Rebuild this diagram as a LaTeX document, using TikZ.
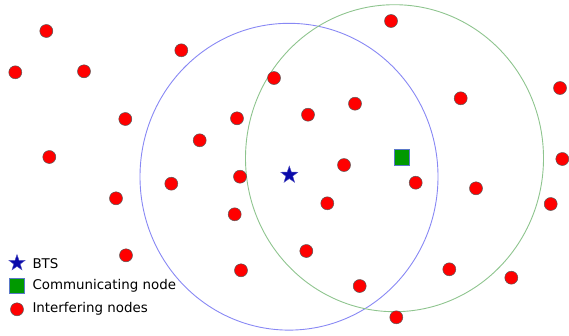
\documentclass[tikz,border=0pt]{standalone}
\usepackage{fontspec}
\setmainfont{DejaVu Sans}
\usetikzlibrary{shapes.geometric}
\definecolor{btsblue}{HTML}{0A0AAA}
\definecolor{rangeblue}{HTML}{8888F4}
\definecolor{rangegreen}{HTML}{8EC48E}
\definecolor{commgreen}{HTML}{009900}
\definecolor{commedge}{HTML}{5A78C8}
\tikzset{
  inode/.style={circle, fill=red, draw=black!65, line width=0.5pt, inner sep=0pt, minimum width=12.6pt, minimum height=13pt},
  btsnode/.style={star, star points=5, star point ratio=2.5, fill=btsblue, draw=btsblue!70, line width=0.4pt, inner sep=0pt, minimum size=18pt},
  cnode/.style={rectangle, fill=commgreen, draw=commedge, line width=0.8pt, inner sep=0pt, minimum width=15pt, minimum height=15.5pt},
  legtext/.style={anchor=west, inner sep=0pt, font=\fontsize{13.4}{15}\selectfont},
  rangeline/.style={line width=0.9pt}
}
\begin{document}
\begin{tikzpicture}[x=1pt,y=-1pt]
\useasboundingbox (0,0) rectangle (569,335);
% ranges
\coordinate (bc) at (289,176.7);
\coordinate (gc) at (394.5,158.2);
\draw[rangeline, rangeblue] (bc) ellipse [x radius=149pt, y radius=153.4pt];
\draw[rangeline, rangegreen] (gc) ellipse [x radius=149pt, y radius=153.5pt];
% interfering nodes
\foreach \px/\py [count=\i] in {
  46.3/31, 15.3/72.3, 84/71.3, 181.3/50.3, 125.3/119, 274/78, 237/118.3,
  199.7/140.3, 49.3/157, 391/21, 355/103.7, 308/114.7, 460.7/98.3, 560/88,
  562.3/159, 344/165, 171.3/183.7, 240/176.7, 116/198.3, 234.7/214.3,
  126/255.3, 241/270.3, 415.7/182.7, 476/188.3, 550.7/204, 327.3/203.3,
  306.3/251, 449.3/269.3, 511.3/277.7, 359.7/286, 396.3/317.3}
  \node[inode] (n\i) at (\px,\py) {};
% BTS and communicating node
\node[btsnode] (bts) at (289.3,175) {};
\node[cnode] (comm) at (401.7,157.3) {};
% legend
\node[btsnode, minimum size=17pt] (lgbts) at (17,263) {};
\node[cnode] (lgcomm) at (17,286) {};
\node[inode] (lgint) at (17,309.3) {};
\node[legtext] (tbts) at (32.3,263.3) {BTS};
\node[legtext] (tcomm) at (32.3,285.7) {Communicating node};
\node[legtext] (tint) at (32.3,308.5) {Interfering nodes};
\end{tikzpicture}
\end{document}
